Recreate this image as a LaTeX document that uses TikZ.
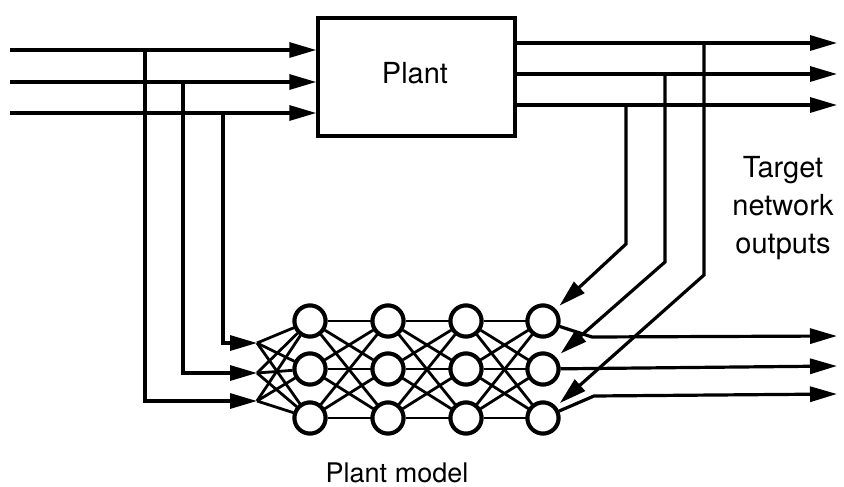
\documentclass[tikz,border=0pt]{standalone}
\usepackage{fontspec}
\setmainfont{TeX Gyre Heros}
\usetikzlibrary{arrows.meta}
\begin{document}
\begin{tikzpicture}[x=1pt,y=-1pt,
  wire/.style={line width=3.2pt},
  flow/.style={wire,-{Triangle[length=27pt,width=15pt]}},
  neuron/.style={circle,draw,line width=4pt,minimum size=31pt,inner sep=0pt,fill=white},
  link/.style={line width=2.8pt},
  lbl/.style={font=\fontsize{29}{38}\selectfont,align=center}]
\useasboundingbox (0,0) rectangle (844,487);

% plant block
\node[draw,line width=3.5pt,minimum width=197pt,minimum height=118pt,inner sep=0pt]
      (plant) at (416.5,77) {};
\node[lbl] (plantname) at (415,73) {Plant};

% plant inputs and their taps
\foreach \i/\y/\tx/\ny in {1/50/145/401, 2/82/183/373, 3/113/223/343} {
  \coordinate (in\i) at (10,\y);
  \coordinate (tap\i) at (\tx,\y);
  \coordinate (bend\i) at (\tx,\ny);
  \coordinate (fan\i) at (257,\ny);
  \draw[flow] (in\i) -- (plant.west |- in\i);
  \draw[flow] (tap\i) -- (bend\i) -- (fan\i);
}

% plant outputs
\foreach \i/\y in {1/43, 2/74, 3/105} {
  \coordinate (out\i) at (837,\y);
  \draw[flow] (plant.east |- out\i) -- (out\i);
}

% neural network plant model
\foreach \c/\x in {1/310, 2/388, 3/466, 4/543} {
  \foreach \r/\y in {1/321, 2/369, 3/418} {
    \node[neuron] (n-\c-\r) at (\x,\y) {};
  }
}
\foreach \a/\b in {1/2, 2/3, 3/4} {
  \foreach \r in {1,2,3} {
    \foreach \s in {1,2,3} {
      \draw[link] (n-\a-\r) -- (n-\b-\s);
    }
  }
}
\foreach \i in {1,2,3} {
  \foreach \r in {1,2,3} {
    \draw[link] (fan\i) -- (n-1-\r);
  }
}
% redraw neurons above the links
\foreach \c/\x in {1/310, 2/388, 3/466, 4/543} {
  \foreach \r/\y in {1/321, 2/369, 3/418} {
    \node[neuron] at (\x,\y) {};
  }
}

% model outputs
\coordinate (m1) at (837,336);
\coordinate (m2) at (837,366);
\coordinate (m3) at (837,394);
\draw[flow] (n-4-1) -- (592,337) -- (m1);
\draw[flow] (n-4-2) -- (m2);
\draw[flow] (n-4-3) -- (594,396) -- (m3);

% target signals taken from the plant outputs
\coordinate (d3) at (626,105);
\coordinate (d2) at (665,74);
\coordinate (d1) at (704,43);
\coordinate (k3) at (626,244);
\coordinate (k2) at (665,262);
\coordinate (k1) at (704,275);
\draw[flow,shorten >=5pt] (d3) -- (k3) -- (n-4-1);
\draw[flow,shorten >=6pt] (d2) -- (k2) -- (n-4-2);
\draw[flow,shorten >=5pt] (d1) -- (k1) -- (n-4-3);

% labels
\node[lbl] (target) at (783,208) {Target\\network\\outputs};
\node[lbl,anchor=base,font=\fontsize{27}{32}\selectfont] (model) at (397,482) {Plant model};
\end{tikzpicture}
\end{document}
